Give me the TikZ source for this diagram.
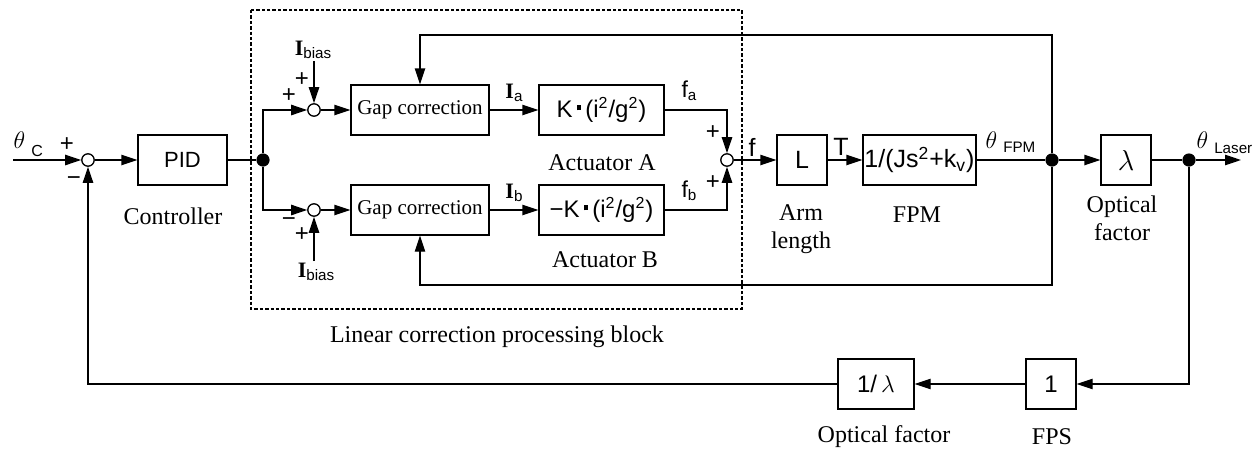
\documentclass[tikz,border=0pt]{standalone}
\usepackage{fontspec}
\setmainfont{Liberation Serif}
\setsansfont{Liberation Sans}
\usetikzlibrary{arrows.meta}
\newcommand{\fs}[1]{\fontsize{#1}{#1}\selectfont}
\newcommand{\sqdot}{\rule[0.3em]{0.2em}{0.2em}}
\newcommand{\Isub}[1]{{\fs{11}\textbf{I}}\raisebox{-1.5pt}{\sffamily\fs{7.6}#1}}
\newcommand{\fsub}[1]{{\sffamily\fs{11.5}f}\raisebox{-1.5pt}{\sffamily\fs{7.6}#1}}
\newcommand{\thsub}[2]{{\fs{13}$\theta$}\hspace{3pt}\raisebox{#1}{\sffamily\fs{7.6}#2}}
\begin{document}
\begin{tikzpicture}[x=0.5pt,y=-0.5pt,
  line width=0.65pt,
  arr/.style={-{Triangle[length=8pt,width=5.2pt]}},
  blk/.style={draw, inner sep=0pt, minimum height=25pt, font=\sffamily\fs{12}},
  sumc/.style={draw, circle, fill=white, inner sep=0pt, minimum size=6.2pt},
  dotn/.style={circle, fill=black, inner sep=0pt, minimum size=6.6pt},
  lbl/.style={font=\fontsize{12}{14}\selectfont, align=center, inner sep=0pt},
  sgn/.style={font=\sffamily\fs{12}, inner sep=0pt},
  dashbox/.style={line width=1pt, dash pattern=on 1.7pt off 1pt}
]
\useasboundingbox (0,0) rectangle (1259,450);

% linear correction processing block
\draw[dashbox] (251,10) rectangle (742,309);

% blocks
\node[sumc] (S0) at (88,160) {};
\node[blk, minimum width=44.5pt, font=\sffamily\fs{11}] (PID) at (182.5,160) {PID};
\node[dotn] (J1) at (263,160) {};
\node[sumc] (S1) at (314,110) {};
\node[sumc] (S2) at (314,210) {};
\node[blk, minimum width=69pt, font=\fs{10.5}] (GC1) at (420,110) {Gap correction};
\node[blk, minimum width=69pt, font=\fs{10.5}] (GC2) at (420,210) {Gap correction};
\node[blk, minimum width=62.5pt] (KA) at (601.5,110) {K\,\sqdot\,(i\textsuperscript{2}/g\textsuperscript{2})};
\node[blk, minimum width=62.5pt] (KB) at (601.5,210) {−K\,\sqdot\,(i\textsuperscript{2}/g\textsuperscript{2})};
\node[sumc] (S3) at (727,160) {};
\node[blk, minimum width=25pt, font=\sffamily\fs{12.5}] (L) at (802,160) {L};
\node[blk, minimum width=56.5pt, font=\sffamily\fs{12.5}] (FPM) at (919.5,160) {1/(Js\textsuperscript{2}+k\textsubscript{v})};
\node[dotn] (J2) at (1052,160) {};
\node[blk, minimum width=25pt, font=\fs{14}] (LAM) at (1126,160) {$\lambda$};
\node[dotn] (J3) at (1189,160) {};
\node[blk, minimum width=25pt] (ONE) at (1051,384) {1};
\node[blk, minimum width=38pt] (INV) at (876,384) {1/\,{\fs{13}$\lambda$}};

% free ends
\coordinate (in) at (13,160);
\coordinate (out) at (1241,160);
\coordinate (ib1) at (314,61);
\coordinate (ib2) at (314,261);
\coordinate (fbT) at (1052,35);
\coordinate (fbB) at (1052,285);

% connectors
\draw[arr] (in) -- (S0);
\draw[arr] (S0) -- (PID);
\draw (PID) -- (J1);
\draw[arr] (J1) |- (S1);
\draw[arr] (J1) |- (S2);
\draw[arr] (ib1) -- (S1);
\draw[arr] (ib2) -- (S2);
\draw[arr] (S1) -- (GC1);
\draw[arr] (S2) -- (GC2);
\draw[arr] (GC1) -- (KA);
\draw[arr] (GC2) -- (KB);
\draw[arr] (KA) -| (S3);
\draw[arr] (KB) -| (S3);
\draw[arr] (S3) -- (L);
\draw[arr] (L) -- (FPM);
\draw (FPM) -- (J2);
\draw[arr] (J2) -- (LAM);
\draw (LAM) -- (J3);
\draw[arr] (J3) -- (out);
\draw[arr] (J2) -- (fbT) -| (GC1);
\draw[arr] (J2) -- (fbB) -| (GC2);
\draw[arr] (J3) |- (ONE);
\draw[arr] (ONE) -- (INV);
\draw[arr] (INV) -| (S0);

% signal labels
\node[anchor=base west, inner sep=0pt] (thC) at (13,148) {{\fs{13}$\theta$}\hspace{3pt}\raisebox{-4pt}{\sffamily\fs{8}C}};
\node[anchor=base west, inner sep=0pt] (thF) at (985,148) {\thsub{-2pt}{FPM}};
\node[anchor=base west, inner sep=0pt] (thL) at (1196,148) {\thsub{-2.5pt}{Laser}};
\node[inner sep=0pt] (IB1) at (313,50) {\Isub{bias}};
\node[inner sep=0pt] (IB2) at (316,272) {\Isub{bias}};
\node[inner sep=0pt] (Ia) at (514,93) {\Isub{a}};
\node[inner sep=0pt] (Ib) at (514,193) {\Isub{b}};
\node[inner sep=0pt] (fa) at (689,91) {\fsub{a}};
\node[inner sep=0pt] (fb) at (689,191) {\fsub{b}};
\node[inner sep=0pt, font=\sffamily\fs{12.5}] (fl) at (752,147) {f};
\node[inner sep=0pt, font=\sffamily\fs{12.5}] (Tl) at (841,147) {T};

% signs
\node[sgn] (p0) at (67,145) {+};
\node[sgn] (m0) at (74,181) {−};
\node[sgn] (p1a) at (302,80) {+};
\node[sgn] (p1b) at (289,96) {+};
\node[sgn] (m2) at (289,222) {−};
\node[sgn] (p2) at (302,235) {+};
\node[sgn] (p3a) at (713,133) {+};
\node[sgn] (p3b) at (713,183) {+};

% captions
\node[lbl] (ctrl) at (173,216) {Controller};
\node[lbl] (actA) at (602,163) {Actuator A};
\node[lbl] (actB) at (605,260) {Actuator B};
\node[lbl] (arm) at (801,229) {Arm\\length};
\node[lbl] (fpmL) at (917,215) {FPM};
\node[lbl] (optL) at (1122,218) {Optical\\factor};
\node[lbl] (optB) at (884,437) {Optical factor};
\node[lbl] (fps) at (1052,437) {FPS};
\node[lbl] (lin) at (497,337) {Linear correction processing block};
\end{tikzpicture}
\end{document}
